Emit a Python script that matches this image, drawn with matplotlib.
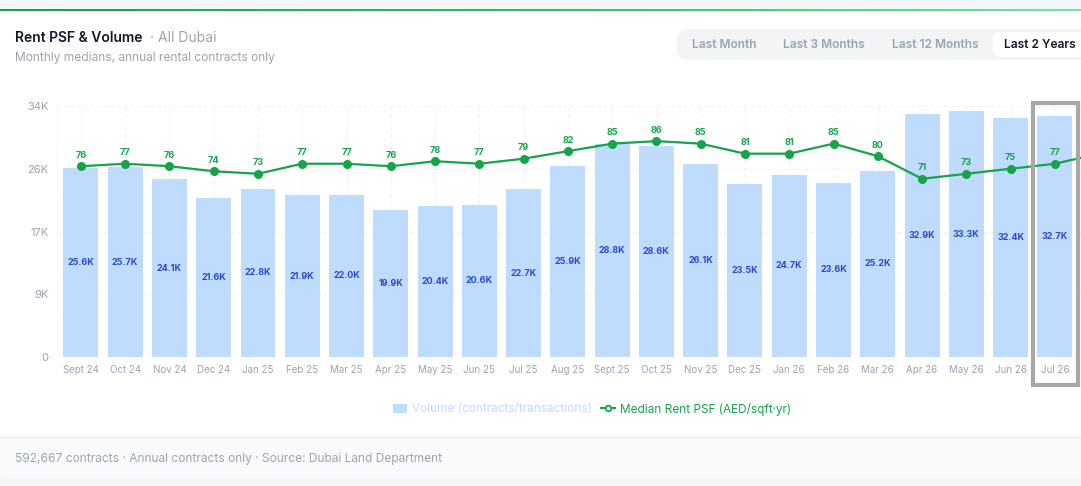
import numpy as np
import matplotlib.pyplot as plt
from matplotlib.patches import FancyBboxPatch, Rectangle
from matplotlib.lines import Line2D
from matplotlib.colors import LinearSegmentedColormap

months = ["Sept 24", "Oct 24", "Nov 24", "Dec 24", "Jan 25", "Feb 25", "Mar 25",
          "Apr 25", "May 25", "Jun 25", "Jul 25", "Aug 25", "Sept 25", "Oct 25",
          "Nov 25", "Dec 25", "Jan 26", "Feb 26", "Mar 26", "Apr 26", "May 26",
          "Jun 26", "Jul 26"]
volume_k = [25.6, 25.7, 24.1, 21.6, 22.8, 21.9, 22.0, 19.9, 20.4, 20.6, 22.7, 25.9,
            28.8, 28.6, 26.1, 23.5, 24.7, 23.6, 25.2, 32.9, 33.3, 32.4, 32.7]
rent_psf = [76, 77, 76, 74, 73, 77, 77, 76, 78, 77, 79, 82, 85, 86, 85, 81, 81, 85,
            80, 71, 73, 75, 77]
rent_next = 81  # next month, cut off at the right edge
y_ticks = [0, 8500, 17000, 25500, 34000]
buttons = ["Last Month", "Last 3 Months", "Last 12 Months", "Last 2 Years"]
button_x = [724, 824, 935, 1040]

plt.rcParams['font.family'] = ['Inter', 'DejaVu Sans']

W, H = 1081, 486
fig = plt.figure(figsize=(W / 100, H / 100), dpi=100)
fig.patch.set_facecolor('#f5f6f8')
inch = fig.dpi_scale_trans

GRAY = '#9ca3af'
BLUE = '#bfdbfe'
GREEN = '#16a34a'


def rbox(x0, y0, x1, y1, color, r, ec='none', z=0, lw=0):
    p = FancyBboxPatch(((x0 + r) / 100, (H - y1 + r) / 100),
                       (x1 - x0 - 2 * r) / 100, (y1 - y0 - 2 * r) / 100,
                       boxstyle=f"round,pad={r / 100}", transform=inch,
                       fc=color, ec=ec, lw=lw, zorder=z)
    fig.add_artist(p)


def ftext(x, y, s, **kw):
    fig.text(x / W, 1 - y / H, s, **kw)


# card, footer
rbox(0, 9, 1100, 478, 'white', 8, z=0)
rbox(0, 437, 1100, 478, '#f9fafb', 8, z=0.1)
fig.add_artist(Rectangle((0, (H - 445) / 100), 11.2, 8 / 100, transform=inch,
                         fc='#f9fafb', ec='none', zorder=0.2))
fig.add_artist(Line2D([0, 1], [1 - 437 / H] * 2, color='#eceef1', lw=1, zorder=0.3))

# green top bar
gax = fig.add_axes([0, 1 - 11.5 / H, 1, 2.5 / H])
gax.imshow(np.linspace(0, 1, 256)[None, :], aspect='auto',
           cmap=LinearSegmentedColormap.from_list('g', ['#16a34a', '#22c55e', '#6ee7a0']))
gax.axis('off')

# header
ftext(15, 38, "Rent PSF & Volume", fontsize=10, fontweight='semibold', color='#111827', va='center')
ftext(150, 38, "· All Dubai", fontsize=10, color=GRAY, va='center')
ftext(15, 58, "Monthly medians, annual rental contracts only", fontsize=8.6, color=GRAY, va='center')

# period buttons
rbox(677, 29, 1100, 60, '#f3f4f6', 10, z=0.5)
rbox(993, 32, 1095, 57, 'white', 8, z=0.6)
for i, b in enumerate(buttons):
    active = i == len(buttons) - 1
    ftext(button_x[i], 44.5, b, fontsize=8.6, fontweight='semibold',
          color='#111827' if active else GRAY, ha='center', va='center', zorder=1)

# main chart
ax = fig.add_axes([57 / W, (H - 357) / H, 1024 / W, 251 / H])
x = np.arange(len(months))
vol = np.array(volume_k) * 1000
ax.bar(x, vol, width=0.79, color=BLUE, zorder=2)
for i, v in enumerate(volume_k):
    ax.text(i, v * 1000 / 2, f"{v:.1f}K", ha='center', va='center', fontsize=6.5,
            fontweight='bold', color='#2b4acb', zorder=3)

ax.set_xlim(-0.54, 22.59)
ax.set_ylim(0, 34000)
ax.set_yticks(y_ticks)
ax.set_yticklabels(['0' if v == 0 else f"{int(v / 1000 + 0.5)}K" for v in y_ticks])
ax.set_xticks(x)
ax.set_xticklabels(months)
ax.tick_params(axis='both', length=0, colors=GRAY, labelsize=7)
ax.tick_params(axis='y', labelsize=8, pad=6)
ax.tick_params(axis='x', pad=6)
for s in ax.spines.values():
    s.set_visible(False)
ax.grid(True, color='#f0f0f0', lw=0.8, ls=(0, (3, 3)), zorder=0)
ax.axvline(-0.54, color='#f0f0f0', lw=0.8, ls=(0, (3, 3)), zorder=0)
ax.set_facecolor('none')

ax2 = ax.twinx()
ax2.set_ylim(0, 100)
ax2.axis('off')
ax2.plot(np.arange(len(rent_psf) + 1), rent_psf + [rent_next], color=GREEN, lw=1.6,
         marker='o', ms=5.5, zorder=3)
for i, v in enumerate(rent_psf):
    ax2.annotate(str(v), (i, v), xytext=(0, 8), textcoords='offset points',
                 ha='center', va='center', fontsize=6.5, fontweight='bold', color=GREEN)

# highlight of current month
ax2.add_patch(Rectangle((22 - 0.49, -0.11), 1.02, 1.122, transform=ax2.get_xaxis_transform(),
                        fill=False, ec='#a8a8a8', lw=3, clip_on=False, zorder=5))

# legend
handles = [Rectangle((0, 0), 1, 1, fc=BLUE, ec='none'),
           Line2D([], [], color=GREEN, lw=1.5, marker='o', ms=4, mfc='white', mec=GREEN, mew=1.3)]
fig.legend(handles, ["Volume (contracts/transactions)", "Median Rent PSF (AED/sqft·yr)"],
           loc='center', bbox_to_anchor=(592 / W, 1 - 409 / H), ncol=2, frameon=False,
           fontsize=8.5, labelcolor=[BLUE, GREEN], handlelength=1.2, handletextpad=0.4,
           columnspacing=0.8, handleheight=0.9)

ftext(15, 459, "592,667 contracts · Annual contracts only · Source: Dubai Land Department",
      fontsize=8.6, color=GRAY, va='center')

fig.savefig('out.png', dpi=100, facecolor=fig.get_facecolor())
